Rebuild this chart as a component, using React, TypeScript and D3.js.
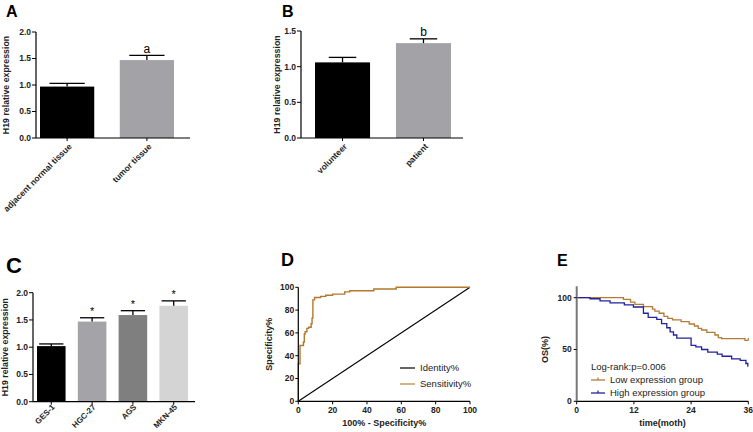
import React from 'react';
import * as d3 from 'd3';

// ---------- Data ----------
const catsA = ['adjacent normal tissue', 'tumor tissue'];
const meanA = [0.97, 1.47];
const errA = [0.06, 0.09];
const sigA = ['', 'a'];
const ticksA = [0, 0.5, 1.0, 1.5, 2.0];
const colorsA = ['#000000', '#a2a2a7'];

const catsB = ['volunteer', 'patient'];
const meanB = [1.06, 1.33];
const errB = [0.07, 0.06];
const sigB = ['', 'b'];
const ticksB = [0, 0.5, 1.0, 1.5];
const colorsB = ['#000000', '#a2a2a7'];

const catsC = ['GES-1', 'HGC-27', 'AGS', 'MKN-45'];
const meanC = [1.02, 1.47, 1.59, 1.76];
const errC = [0.04, 0.07, 0.08, 0.09];
const sigC = ['', '*', '*', '*'];
const ticksC = [0, 0.5, 1.0, 1.5, 2.0];
const colorsC = ['#000000', '#a3a3a8', '#7f7f7f', '#d4d4d4'];

const rocFpr = [0, 0, 1, 1, 3, 3, 3.5, 3.5, 4, 4, 5, 5, 6, 6, 7.5, 7.5, 8, 8, 8.5, 8.5, 9.5, 9.5, 13, 13, 16, 16, 20, 20, 27, 27, 30, 30, 44, 44, 57, 57, 100];
const rocTpr = [0, 33, 33, 49, 49, 52, 52, 59, 59, 61, 61, 64, 64, 65, 65, 68, 68, 73, 73, 89, 89, 91, 91, 92, 92, 93, 93, 94, 94, 96, 96, 97, 97, 98.5, 98.5, 100, 100];
const identityX = [0, 100];
const identityY = [0, 100];
const ticksD = [0, 20, 40, 60, 80, 100];

const lowT = [0, 9.8, 11.3, 12.2, 14, 15.9, 16.4, 17.3, 18.3, 19.1, 20.1, 21.9, 23.6, 24.7, 25.5, 26.2, 27.3, 29, 29.7, 30.4, 35.3, 36];
const lowS = [100, 98.4, 95.8, 93.6, 91.3, 89, 87, 85, 82, 80, 78.5, 77, 74.6, 72.7, 70.4, 68.8, 66.6, 64, 61.4, 60.5, 58.8, 58.8];
const highT = [0, 2.8, 4.9, 7, 10, 11.9, 14, 15, 16.8, 17.8, 18.9, 19.6, 20.3, 21, 24, 25, 26.2, 27.5, 29.5, 30.5, 32.5, 34.3, 35.5, 35.9, 36];
const highS = [100, 99, 97, 95, 93, 91, 85, 81, 79, 75, 71, 67, 64, 61, 54, 52.5, 50, 47.5, 45.5, 43.5, 41, 39.5, 36.5, 34, 34];
const ticksEx = [0, 12, 24, 36];
const ticksEy = [0, 50, 100];

const FONT = '"Liberation Sans", Arial, sans-serif';

type BarProps = {
  letter: string; letterX: number; letterY: number; letterSize: number;
  cats: string[]; means: number[]; errs: number[]; sigs: string[]; colors: string[];
  ticks: number[]; ymax: number;
  axisX0: number; axisX1: number; barX0: number; barX1: number; padInner: number;
  yTop: number; yBottom: number; capFrac: number; titleX: number; sigSize: number;
  catSize: number; catDx: number; catDy: number;
};

function BarPanel(p: BarProps) {
  const x = d3.scaleBand<string>().domain(p.cats).range([p.barX0, p.barX1]).paddingInner(p.padInner).paddingOuter(0);
  const y = d3.scaleLinear().domain([0, p.ymax]).range([p.yBottom, p.yTop]);
  const bw = x.bandwidth();
  return (
    <g fontFamily={FONT}>
      <text x={p.letterX} y={p.letterY} fontSize={p.letterSize} fontWeight="bold">{p.letter}</text>
      {p.cats.map((c, i) => {
        const x0 = x(c)!;
        const cx = x0 + bw / 2;
        const capW = bw * p.capFrac;
        const yTopE = y(p.means[i] + p.errs[i]);
        return (
          <g key={c}>
            <rect x={x0} y={y(p.means[i])} width={bw} height={p.yBottom - y(p.means[i])} fill={p.colors[i]} />
            <line x1={cx} x2={cx} y1={y(p.means[i])} y2={yTopE} stroke="#000" strokeWidth={1.3} />
            <line x1={cx - capW / 2} x2={cx + capW / 2} y1={yTopE} y2={yTopE} stroke="#000" strokeWidth={1.3} />
            {p.sigs[i] && (
              <text x={cx} y={yTopE - 2.5} fontSize={p.sigSize} textAnchor="middle" fill="#000">{p.sigs[i]}</text>
            )}
            <line x1={cx} x2={cx} y1={p.yBottom} y2={p.yBottom + 3} stroke="#000" strokeWidth={1} />
            <text transform={`translate(${cx + p.catDx},${p.yBottom + p.catDy}) rotate(-45)`} fontSize={p.catSize} fontWeight="bold" textAnchor="end" dy="0.35em" fill="#222">{c}</text>
          </g>
        );
      })}
      <line x1={p.axisX0} x2={p.axisX1} y1={p.yBottom} y2={p.yBottom} stroke="#000" strokeWidth={1.2} />
      <line x1={p.axisX0} x2={p.axisX0} y1={p.yBottom} y2={p.yTop} stroke="#000" strokeWidth={1.2} />
      {p.ticks.map(t => (
        <g key={t}>
          <line x1={p.axisX0 - 4} x2={p.axisX0} y1={y(t)} y2={y(t)} stroke="#000" strokeWidth={1} />
          <text x={p.axisX0 - 5} y={y(t)} dy="0.35em" fontSize={8.5} fontWeight="bold" textAnchor="end" fill="#222">{t.toFixed(1)}</text>
        </g>
      ))}
      <text transform={`translate(${p.titleX},${(p.yTop + p.yBottom) / 2}) rotate(-90)`} fontSize={8.8} fontWeight="bold" textAnchor="middle" fill="#222">H19 relative expression</text>
    </g>
  );
}

function RocPanel() {
  const x = d3.scaleLinear().domain([0, 100]).range([298.3, 470]);
  const y = d3.scaleLinear().domain([0, 100]).range([401.3, 287.3]);
  const line = d3.line<number>().x(i => x(rocFpr[i])).y(i => y(rocTpr[i]));
  const idLine = d3.line<number>().x(i => x(identityX[i])).y(i => y(identityY[i]));
  return (
    <g fontFamily={FONT}>
      <text x={281} y={266} fontSize={18} fontWeight="bold">D</text>
      <path d={idLine(identityX.map((_, i) => i))!} stroke="#000" strokeWidth={1.1} fill="none" />
      <path d={line(rocFpr.map((_, i) => i))!} stroke="#b07a2a" strokeWidth={1.4} fill="none" />
      <line x1={x(0)} x2={x(100)} y1={y(0)} y2={y(0)} stroke="#000" strokeWidth={1.2} />
      <line x1={x(0)} x2={x(0)} y1={y(0)} y2={y(100)} stroke="#000" strokeWidth={1.2} />
      {ticksD.map(t => (
        <g key={t}>
          <line x1={x(t)} x2={x(t)} y1={y(0)} y2={y(0) + 3} stroke="#000" />
          <text x={x(t)} y={y(0) + 12} fontSize={8.5} fontWeight="bold" textAnchor="middle" fill="#222">{t}</text>
          <line x1={x(0) - 3} x2={x(0)} y1={y(t)} y2={y(t)} stroke="#000" />
          <text x={x(0) - 4} y={y(t)} dy="0.35em" fontSize={8.5} fontWeight="bold" textAnchor="end" fill="#222">{t}</text>
        </g>
      ))}
      <text x={(x(0) + x(100)) / 2} y={426} fontSize={9} fontWeight="bold" textAnchor="middle" fill="#222">100% - Specificity%</text>
      <text transform={`translate(${272},${(y(0) + y(100)) / 2}) rotate(-90)`} fontSize={9} fontWeight="bold" textAnchor="middle" fill="#222">Specificity%</text>
      <line x1={400} x2={415} y1={368} y2={368} stroke="#000" strokeWidth={1.2} />
      <text x={420} y={368} dy="0.35em" fontSize={9.5} fill="#222">Identity%</text>
      <line x1={400} x2={415} y1={384} y2={384} stroke="#c09455" strokeWidth={1.4} />
      <text x={420} y={384} dy="0.35em" fontSize={9.5} fill="#222">Sensitivity%</text>
    </g>
  );
}

function SurvPanel() {
  const x = d3.scaleLinear().domain([0, 36]).range([576.7, 748.3]);
  const y = d3.scaleLinear().domain([0, 100]).range([401.3, 297.7]);
  const low = d3.line<number>().x(i => x(lowT[i])).y(i => y(lowS[i])).curve(d3.curveStepAfter);
  const high = d3.line<number>().x(i => x(highT[i])).y(i => y(highS[i])).curve(d3.curveStepAfter);
  const lowC = '#b27c36';
  const highC = '#22229c';
  return (
    <g fontFamily={FONT}>
      <text x={557} y={266} fontSize={16} fontWeight="bold">E</text>
      <path d={low(lowT.map((_, i) => i))!} stroke={lowC} strokeWidth={1.3} fill="none" />
      <path d={high(highT.map((_, i) => i))!} stroke={highC} strokeWidth={1.3} fill="none" />
      <line x1={x(36)} x2={x(36)} y1={y(58.8)} y2={y(61)} stroke={lowC} strokeWidth={1.2} />
      <line x1={x(0)} x2={x(36)} y1={y(0)} y2={y(0)} stroke="#000" strokeWidth={1.2} />
      <line x1={x(0)} x2={x(0)} y1={y(0)} y2={y(111)} stroke="#777" strokeWidth={2} />
      {ticksEx.map(t => (
        <g key={t}>
          <line x1={x(t)} x2={x(t)} y1={y(0)} y2={y(0) + 3} stroke="#000" />
          <text x={x(t)} y={y(0) + 12} fontSize={8.5} fontWeight="bold" textAnchor="middle" fill="#222">{t}</text>
        </g>
      ))}
      {ticksEy.map(t => (
        <g key={t}>
          <line x1={x(0) - 3} x2={x(0)} y1={y(t)} y2={y(t)} stroke="#000" />
          <text x={x(0) - 5} y={y(t)} dy="0.35em" fontSize={8.5} fontWeight="bold" textAnchor="end" fill="#222">{t}</text>
        </g>
      ))}
      <text x={(x(0) + x(36)) / 2} y={426} fontSize={9} fontWeight="bold" textAnchor="middle" fill="#222">time(moth)</text>
      <text transform={`translate(${548},${y(50)}) rotate(-90)`} fontSize={9} fontWeight="bold" textAnchor="middle" fill="#222">OS(%)</text>
      <text x={591} y={367} dy="0.35em" fontSize={9.5} fill="#222">Log-rank:p=0.006</text>
      <line x1={591} x2={605} y1={380} y2={380} stroke={lowC} strokeWidth={1.3} />
      <line x1={598} x2={598} y1={380} y2={377.5} stroke={lowC} strokeWidth={1.2} />
      <text x={610} y={380} dy="0.35em" fontSize={9.5} fill="#222">Low expression group</text>
      <line x1={591} x2={605} y1={393} y2={393} stroke={highC} strokeWidth={1.3} />
      <line x1={598} x2={598} y1={393} y2={390.5} stroke={highC} strokeWidth={1.2} />
      <text x={610} y={393} dy="0.35em" fontSize={9.5} fill="#222">High expression group</text>
    </g>
  );
}

export default function App() {
  return (
    <svg width={753} height={432} style={{ position: 'absolute', left: 0, top: 0, background: '#fff' }}>
      <rect x={0} y={0} width={753} height={432} fill="#fff" />
      <BarPanel letter="A" letterX={6} letterY={17} letterSize={16}
        cats={catsA} means={meanA} errs={errA} sigs={sigA} colors={colorsA}
        ticks={ticksA} ymax={2.0} axisX0={36} axisX1={190} barX0={40} barX1={174} padInner={0.32}
        yTop={32} yBottom={138} capFrac={0.65} titleX={9} sigSize={12} catSize={8.5} catDx={3} catDy={7} />
      <BarPanel letter="B" letterX={282} letterY={17} letterSize={16}
        cats={catsB} means={meanB} errs={errB} sigs={sigB} colors={colorsB}
        ticks={ticksB} ymax={1.5} axisX0={301} axisX1={463} barX0={315} barX1={451} padInner={0.32}
        yTop={31} yBottom={138} capFrac={0.5} titleX={280} sigSize={12} catSize={8.5} catDx={3} catDy={7} />
      <BarPanel letter="C" letterX={6} letterY={273} letterSize={22}
        cats={catsC} means={meanC} errs={errC} sigs={sigC} colors={colorsC}
        ticks={ticksC} ymax={2.0} axisX0={33} axisX1={195} barX0={37} barX1={188} padInner={0.3}
        yTop={292.7} yBottom={401.7} capFrac={0.85} titleX={8} sigSize={11} catSize={8} catDx={2} catDy={4} />
      <RocPanel />
      <SurvPanel />
    </svg>
  );
}
